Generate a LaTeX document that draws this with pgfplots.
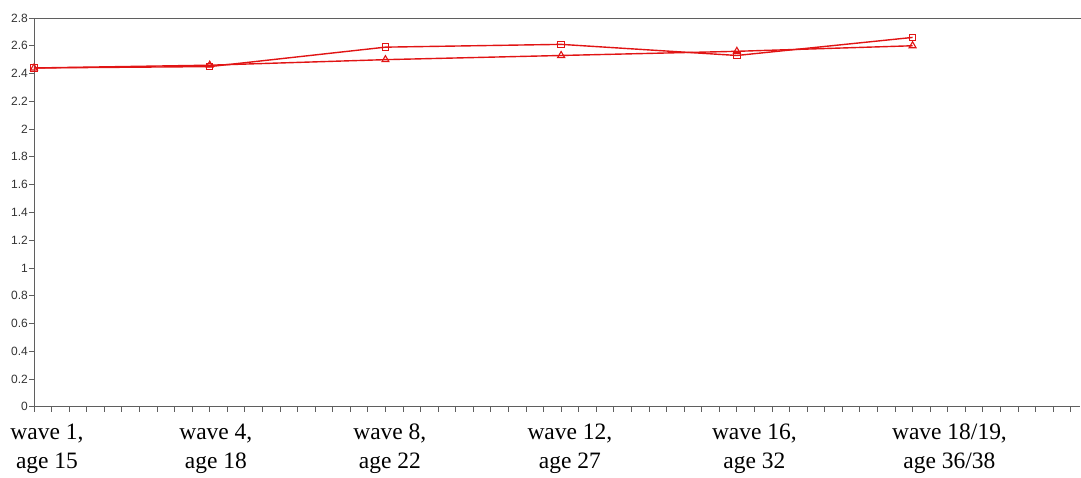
\documentclass[border=0pt]{standalone}
\usepackage{fontspec}
\setmainfont{Liberation Serif}
\newfontfamily\arial{Liberation Sans}
\usepackage{pgfplots}
\pgfplotsset{compat=1.18}
\definecolor{lred}{RGB}{225,20,20}
\definecolor{axgray}{RGB}{95,95,95}
\begin{document}
\begin{tikzpicture}
\path (-34pt,-71pt) rectangle (1047pt,407pt);
\begin{axis}[
  at={(0pt,0pt)}, anchor=origin,
  scale only axis, width=1046pt, height=389pt,
  xmin=0, xmax=59.5, ymin=0, ymax=2.8,
  axis lines=left,
  axis line style={-, draw=axgray, line width=0.9pt},
  tick align=outside,
  major tick length=5pt,
  tick style={draw=axgray, line width=0.8pt},
  xtick={0,1,...,59}, xticklabels={},
  ytick={0,0.2,...,2.81},
  yticklabel style={font=\arial\fontsize{12}{14}\selectfont, text=black!80, inner sep=1pt},
  /pgf/number format/assume math mode=true,
  /pgf/number format/fixed, /pgf/number format/precision=1,
  extra x ticks={0.74,10.35,20.25,30.5,41.0,52.1},
  extra x tick labels={{wave 1,\\ age 15},{wave 4,\\ age 18},{wave 8,\\ age 22},{wave 12,\\ age 27},{wave 16,\\ age 32},{wave 18/19,\\ age 36/38}},
  extra x tick style={tick style={draw=none}, xticklabel style={align=center, font=\fontsize{23.5}{28.5}\selectfont, yshift=-9pt}},
  clip=false,
]
\draw[axgray, line width=0.9pt] (rel axis cs:0,1) -- (rel axis cs:1.001,1);
\addplot[lred, line width=1.4pt, mark=triangle, mark size=4pt, mark options={solid, line width=1.1pt}]
  coordinates {(0,2.44) (10,2.46) (20,2.50) (30,2.53) (40,2.56) (50,2.60)};
\addplot[lred, line width=1.4pt, mark=square, mark size=3.2pt, mark options={solid, line width=1.1pt}]
  coordinates {(0,2.44) (10,2.45) (20,2.59) (30,2.61) (40,2.53) (50,2.66)};
\end{axis}
\end{tikzpicture}
\end{document}
